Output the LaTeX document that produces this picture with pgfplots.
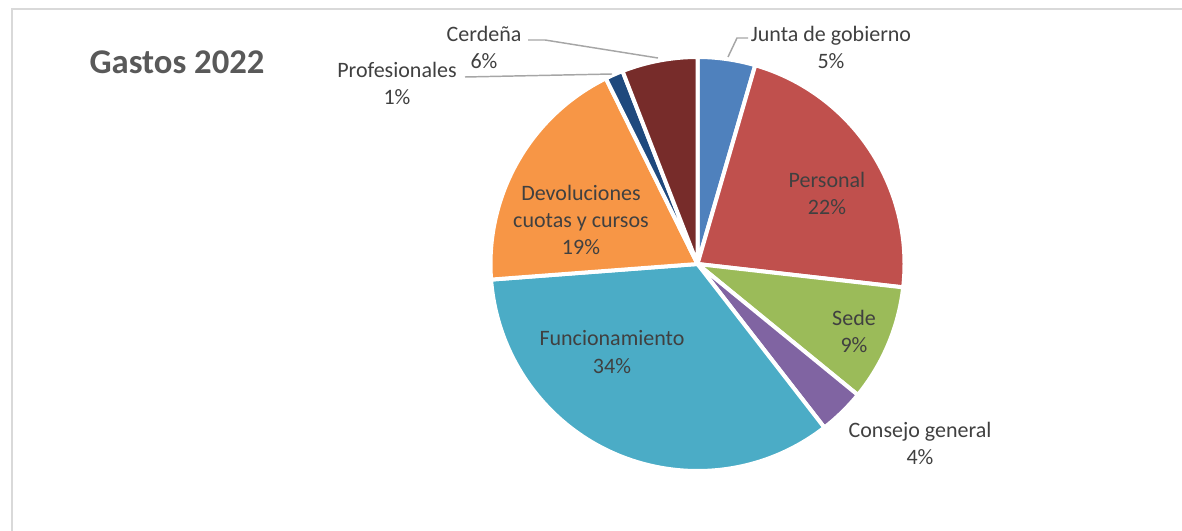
\documentclass[border=0pt]{standalone}
\usepackage{pgfplots}
\pgfplotsset{compat=1.18}
\usepackage{pgfplotstable}
\usepackage{fontspec}
\setmainfont{Carlito}
\definecolor{cJunta}{HTML}{4F81BD}
\definecolor{cPersonal}{HTML}{C0504D}
\definecolor{cSede}{HTML}{9BBB59}
\definecolor{cConsejo}{HTML}{8064A2}
\definecolor{cFunc}{HTML}{4BACC6}
\definecolor{cDev}{HTML}{F79646}
\definecolor{cProf}{HTML}{1F497D}
\definecolor{cCerd}{HTML}{772C2A}
\definecolor{titlegray}{HTML}{595959}
\definecolor{labelgray}{HTML}{404040}
\definecolor{leader}{HTML}{A6A6A6}
\definecolor{frame}{HTML}{D9D9D9}
\newcommand\lbl{\fontsize{16.5}{20.3}\selectfont}
\pgfplotstableread{
idx value col
0 4.5 cJunta
1 22.3 cPersonal
2 9.1 cSede
3 3.6 cConsejo
4 34.3 cFunc
5 18.9 cDev
6 1.4 cProf
7 5.9 cCerd
}\gastos
\begin{document}
\begin{tikzpicture}
\begin{axis}[
  at={(0,0)}, anchor=south west,
  scale only axis, width=886.5pt, height=398.25pt,
  xmin=0, xmax=1182, ymin=0, ymax=531, y dir=reverse,
  hide axis, clip=false]
\draw[frame, line width=1.5pt] (axis cs:12,560) -- (axis cs:12,9) -- (axis cs:1200,9);
\def\cum{0}
\pgfplotsforeachungrouped \i in {0,...,7}{%
  \pgfplotstablegetelem{\i}{value}\of\gastos
  \let\v\pgfplotsretval
  \pgfplotstablegetelem{\i}{col}\of\gastos
  \let\c\pgfplotsretval
  \pgfmathsetmacro\a{90-3.6*\cum}%
  \pgfmathsetmacro\cum{\cum+\v}%
  \global\let\cum\cum
  \pgfmathsetmacro\b{90-3.6*\cum}%
  \edef\temp{\noexpand\fill[\c, draw=white, line width=3pt, line join=round] (axis cs:697.5,264) -- ++(\a:155.25pt) arc[start angle=\a, end angle=\b, radius=155.25pt] -- cycle;}%
  \temp
}
% leader lines
\draw[leader, line width=1.1pt] (axis cs:728,57) -- (axis cs:737,38) -- (axis cs:748,38);
\draw[leader, line width=1.1pt] (axis cs:528,40) -- (axis cs:545,40) -- (axis cs:658,58);
\draw[leader, line width=1.1pt] (axis cs:465,77) -- (axis cs:612,74);
% labels
\node[align=center, text=titlegray, font=\fontsize{26}{30}\selectfont\bfseries, inner sep=0] at (axis cs:177,62) {Gastos 2022};
\node[align=center, text=labelgray, font=\lbl, inner sep=0] at (axis cs:831,47) {Junta de gobierno\\5\%};
\node[align=center, text=labelgray, font=\lbl, inner sep=0] at (axis cs:827,193) {Personal\\22\%};
\node[align=center, text=labelgray, font=\lbl, inner sep=0] at (axis cs:854,331) {Sede\\9\%};
\node[align=center, text=labelgray, font=\lbl, inner sep=0] at (axis cs:920,443) {Consejo general\\4\%};
\node[align=center, text=labelgray, font=\lbl, inner sep=0] at (axis cs:612,352) {Funcionamiento\\34\%};
\node[align=center, text=labelgray, font=\lbl, inner sep=0] at (axis cs:581,220) {Devoluciones\\cuotas y cursos\\19\%};
\node[align=center, text=labelgray, font=\lbl, inner sep=0] at (axis cs:397,83) {Profesionales\\1\%};
\node[align=center, text=labelgray, font=\lbl, inner sep=0] at (axis cs:484,47) {Cerdeña\\6\%};
\end{axis}
\pgfresetboundingbox
\path[use as bounding box] (0,0) rectangle (886.5pt,398.25pt);
\end{tikzpicture}
\end{document}
